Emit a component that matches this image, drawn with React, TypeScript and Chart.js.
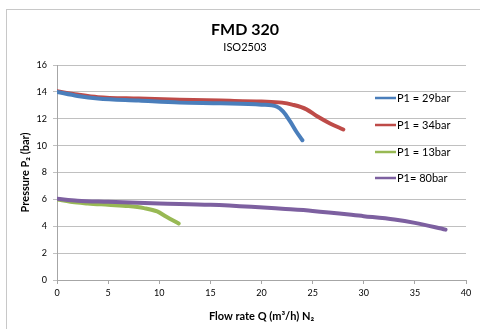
import React, { useEffect, useRef } from "react";
import { Chart, registerables } from "chart.js";

Chart.register(...registerables);

const seriesNames = ["P1 = 29bar", "P1 = 34bar", "P1 = 13bar", "P1= 80bar"];
const seriesColors = ["#4a7ebb", "#be4b48", "#98b954", "#7d60a0"];

const flow29 = [0, 2, 4, 8, 12, 16, 20, 21.5, 22.1, 22.8, 23.4, 24];
const press29 = [14.0, 13.7, 13.5, 13.35, 13.2, 13.15, 13.05, 12.9, 12.55, 11.8, 11.05, 10.4];

const flow34 = [0, 2, 4, 8, 12, 16, 20, 22, 23, 24.4, 25.4, 26.7, 28];
const press34 = [14.05, 13.8, 13.6, 13.5, 13.42, 13.35, 13.28, 13.2, 13.05, 12.7, 12.2, 11.65, 11.2];

const flow13 = [0, 1.5, 3, 5, 7, 8.5, 9.8, 10.7, 11.9];
const press13 = [6.0, 5.8, 5.7, 5.6, 5.5, 5.35, 5.1, 4.7, 4.2];

const flow80 = [0, 2, 5, 10, 15, 19, 22, 25, 30, 33, 35, 38];
const press80 = [6.05, 5.9, 5.82, 5.7, 5.6, 5.45, 5.3, 5.14, 4.75, 4.5, 4.25, 3.75];

const titleText = "FMD 320";
const subtitleText = "ISO2503";
const xTitle = "Flow rate Q (m³/h) N₂";
const yTitle = "Pressure P₂ (bar)";

const FONT = "Lato, 'Open Sans', sans-serif";

const toPoints = (xs: number[], ys: number[]) => xs.map((x, i) => ({ x, y: ys[i] }));

const overlayPlugin = {
  id: "overlay",
  afterDraw(chart: any) {
    const ctx = chart.ctx;
    ctx.save();
    ctx.fillStyle = "#000";
    ctx.textAlign = "center";
    ctx.textBaseline = "middle";
    ctx.font = `bold 16px ${FONT}`;
    ctx.fillText(titleText, 245, 30);
    ctx.font = `11px ${FONT}`;
    ctx.fillText(subtitleText, 245, 47);
    // legend
    const ys = [98, 125, 152, 178];
    ctx.textAlign = "left";
    ctx.font = `11px ${FONT}`;
    seriesNames.forEach((name, i) => {
      ctx.strokeStyle = seriesColors[i];
      ctx.lineWidth = 2.5;
      ctx.beginPath();
      ctx.moveTo(375, ys[i]);
      ctx.lineTo(396, ys[i]);
      ctx.stroke();
      ctx.fillStyle = "#000";
      ctx.fillText(name, 397, ys[i]);
    });
    ctx.restore();
  },
};

export default function App() {
  const ref = useRef<HTMLCanvasElement>(null);
  useEffect(() => {
    if (!ref.current) return;
    const mk = (i: number, xs: number[], ys: number[]) => ({
      label: seriesNames[i],
      data: toPoints(xs, ys),
      borderColor: seriesColors[i],
      backgroundColor: seriesColors[i],
      borderWidth: 4,
      pointRadius: 0,
      cubicInterpolationMode: "monotone" as const,
      borderCapStyle: "round" as const,
      fill: false,
    });
    const chart = new Chart(ref.current, {
      type: "line",
      data: {
        datasets: [
          mk(3, flow80, press80),
          mk(2, flow13, press13),
          mk(0, flow29, press29),
          mk(1, flow34, press34),
        ],
      },
      options: {
        animation: false,
        responsive: false,
        maintainAspectRatio: false,
        layout: { padding: { top: 65, right: 14, left: 0, bottom: 0 } },
        plugins: { legend: { display: false }, tooltip: { enabled: false }, title: { display: false } },
        scales: {
          x: {
            type: "linear",
            min: 0,
            max: 40,
            ticks: { stepSize: 5, color: "#000", font: { family: FONT, size: 9 }, padding: 4, maxRotation: 0 },
            grid: { drawOnChartArea: false, drawTicks: true, tickLength: 4, color: "#a6a6a6" },
            border: { color: "#a6a6a6" },
            title: {
              display: true,
              text: xTitle,
              color: "#000",
              font: { family: FONT, size: 11, weight: "bold" },
              padding: { top: 0, bottom: 6.4 },
            },
            afterFit: (s: any) => {
              s.height = 49;
            },
          },
          y: {
            min: 0,
            max: 16,
            ticks: { stepSize: 2, color: "#000", font: { family: FONT, size: 9 }, padding: 6 },
            grid: { color: "#c0c0c0", drawTicks: true, tickLength: 4 },
            border: { color: "#a6a6a6" },
            title: {
              display: true,
              text: yTitle,
              color: "#000",
              font: { family: FONT, size: 11, weight: "bold" },
              padding: { top: 18.4, bottom: 0 },
            },
            afterFit: (s: any) => {
              s.width = 57;
            },
          },
        },
      },
      plugins: [overlayPlugin],
    });
    return () => chart.destroy();
  }, []);
  return (
    <div style={{ position: "absolute", left: 0, top: 0, width: 480, height: 329, overflow: "hidden", background: "#fff" }}>
      <div
        style={{
          position: "absolute",
          left: 6,
          top: 9,
          width: 500,
          height: 400,
          border: "1px solid #c8c8c8",
          boxSizing: "border-box",
        }}
      />
      <canvas ref={ref} width={480} height={329} style={{ position: "absolute", left: 0, top: 0, width: 480, height: 329 }} />
    </div>
  );
}
